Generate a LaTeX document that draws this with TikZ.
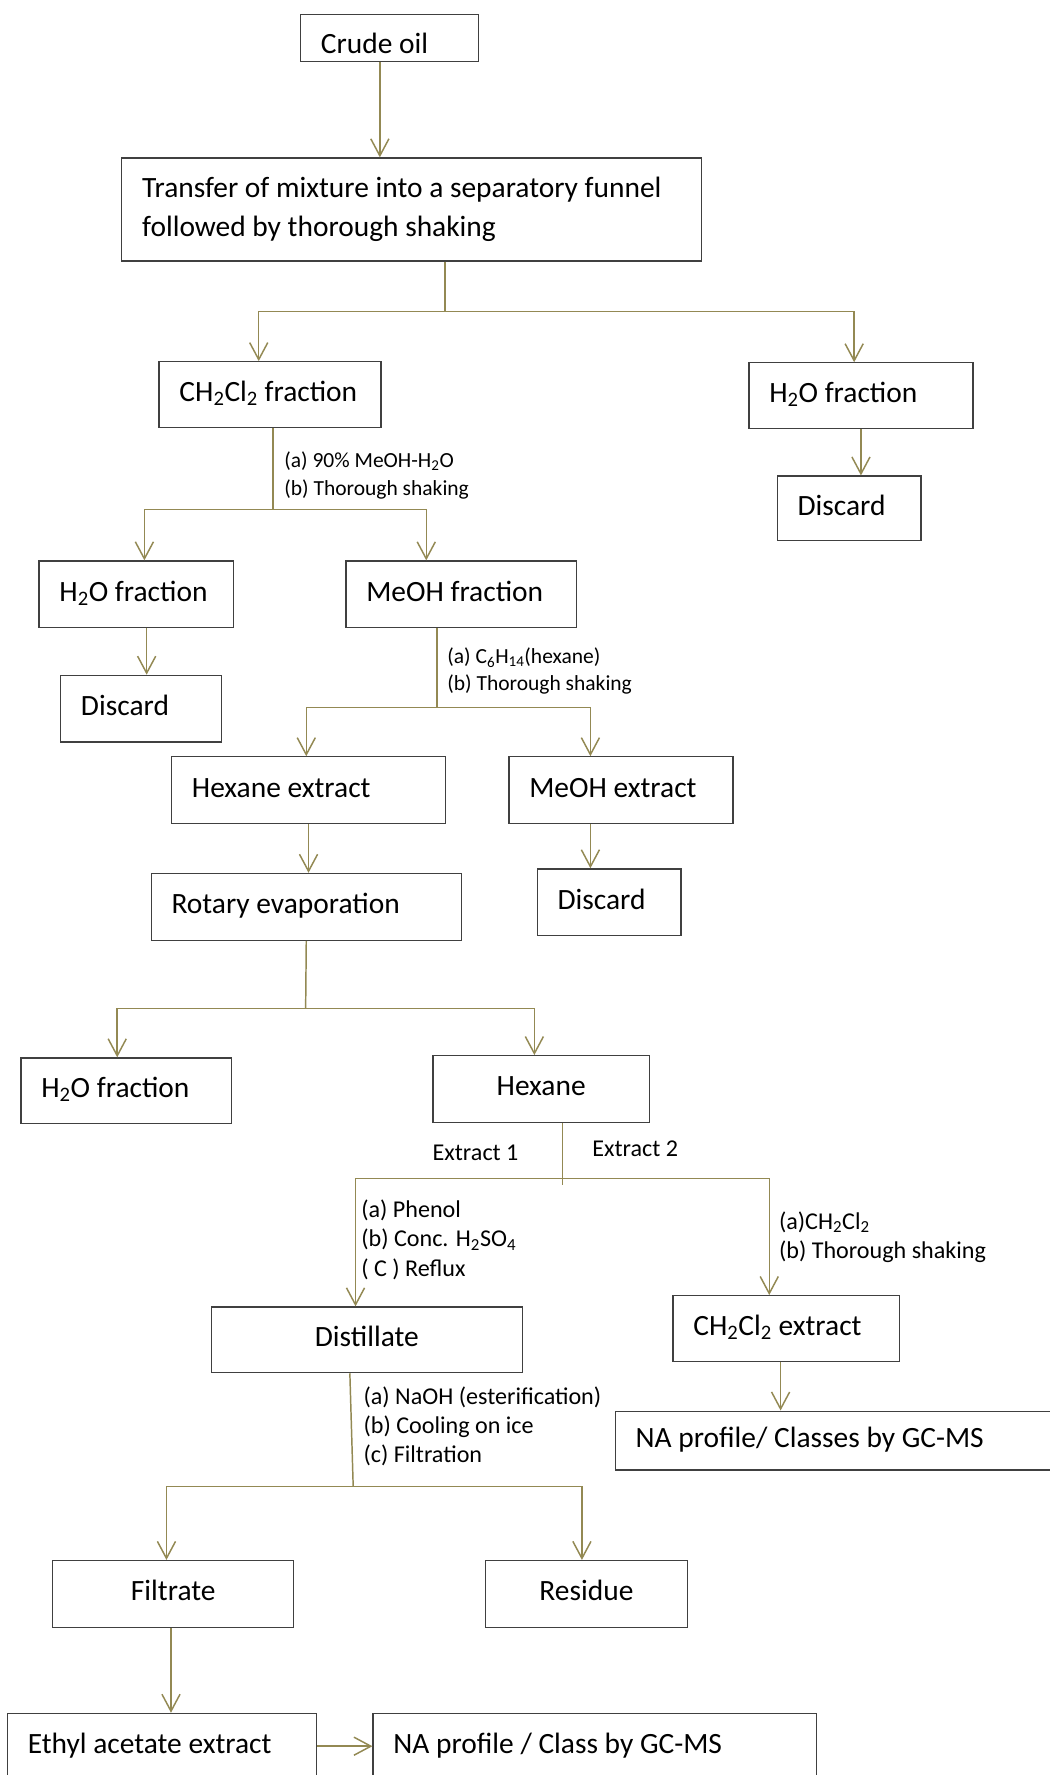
\documentclass[tikz,border=0pt]{standalone}
\usepackage{fontspec}
\setmainfont{Carlito}
\usepackage{tikz}
\usetikzlibrary{arrows.meta}

\definecolor{olivec}{HTML}{938953}
\definecolor{boxc}{HTML}{404040}
\newcommand{\boxfont}{\fontsize{26}{35}\selectfont}
\newcommand{\notefont}{\fontsize{19}{24}\selectfont}
\newcommand{\bignotefont}{\fontsize{21.3}{26}\selectfont}

\tikzset{
	box/.style={draw=boxc, line width=1.1pt, anchor=north west, inner xsep=18pt, inner ysep=0pt, align=left, font=\boxfont,
		text height=20pt, text depth=8pt, execute at begin node={\spaceskip=0pt\xspaceskip=0pt\relax}},
	cbox/.style={box, align=center},
	line/.style={draw=olivec, line width=1.3pt},
	conn/.style={line, -{Straight Barb[length=15pt,width=16pt]}},
	note/.style={anchor=west, inner sep=0pt, align=left, font=\notefont, execute at begin node={\spaceskip=0pt\xspaceskip=0pt\relax}},
	bignote/.style={note, font=\bignotefont}
}

\begin{document}
\begin{tikzpicture}[x=1pt,y=-1pt]
		\path[use as bounding box, fill=white] (0,0) rectangle (927,1568);
		
		% Boxes
		\node[box, text width=121, minimum height=42, text height=28pt, text depth=0pt] (crude) at (265,12) {Crude oil};
		\node[box, text width=476, minimum height=91, text height={}, text depth={}] (transfer) at (107,139) {Transfer of mixture into a separatory funnel\\followed by thorough shaking};
		\node[box, text width=160, minimum height=58] (ch) at (140,319) {CH\textsubscript{2}Cl\textsubscript{2} fraction};
		\node[box, text width=162, minimum height=58] (h2oR) at (661,320) {H\textsubscript{2}O fraction};
		\node[box, text width=91, minimum height=57] (discR) at (686,420) {Discard};
		\node[box, text width=136, minimum height=59] (h2oL) at (34,495) {H\textsubscript{2}O fraction};
		\node[box, text width=168, minimum height=59] (meoh) at (305,495) {MeOH fraction};
		\node[box, text width=106, minimum height=59] (discL) at (53,596) {Discard};
		\node[box, text width=206, minimum height=59] (hexext) at (151,668) {Hexane extract};
		\node[box, text width=162, minimum height=59] (meohext) at (449,668) {MeOH extract};
		\node[box, text width=238, minimum height=59] (rotary) at (133,771) {Rotary evaporation};
		\node[box, text width=91, minimum height=59] (discM) at (474,767) {Discard};
		\node[box, text width=150, minimum height=58] (h2oB) at (18,934) {H\textsubscript{2}O fraction};
		\node[cbox, text width=155, minimum height=59] (hexane) at (382,932) {Hexane};
		\node[cbox, text width=239, minimum height=58] (dist) at (186,1154) {Distillate};
		\node[box, text width=164, minimum height=58] (chext) at (594,1144) {CH\textsubscript{2}Cl\textsubscript{2} extract};
		\node[box, text width=364, minimum height=52] (na1) at (543,1246) {NA profile/ Classes by GC-MS};
		\node[cbox, text width=177, minimum height=59] (filt) at (46,1378) {Filtrate};
		\node[cbox, text width=143, minimum height=59] (resid) at (428,1378) {Residue};
		\node[box, text width=237, minimum height=58] (ethyl) at (6,1513) {Ethyl acetate extract};
		\node[box, text width=356, minimum height=58] (na2) at (329,1513) {NA profile / Class by GC-MS};
		
		% Branch points
		\coordinate (s1) at (393,275);
		\coordinate (s2) at (241,450);
		\coordinate (s3) at (386,625);
		\coordinate (s4) at (270,891);
		\coordinate (s5) at (497,1041);
		\coordinate (s6) at (312,1313);
		
		% Funnel
		\draw[conn] ([xshift=-8.5pt]crude.south) -- ([xshift=-8.5pt]crude.south |- transfer.north);
		\draw[line] (transfer.south -| s1) -- (s1);
		\draw[conn] (s1) -| ([xshift=-10pt]ch.north);
		\draw[conn] (s1) -| ([xshift=-6pt]h2oR.north);
		\draw[conn] (h2oR.south) -- (h2oR.south |- discR.north);
		
		% MeOH-H2O partition
		\draw[line] (ch.south -| s2) -- (s2);
		\draw[conn] (s2) -| ([xshift=7pt]h2oL.north);
		\draw[conn] (s2) -| ([xshift=-31pt]meoh.north);
		\draw[conn] ([xshift=9pt]h2oL.south) -- ([xshift=9pt]h2oL.south |- discL.north);
		\node[note] at (251,420) {(a) 90\% MeOH-H\textsubscript{2}O\\(b) Thorough shaking};
		
		% Hexane partition
		\draw[line] (meoh.south -| s3) -- (s3);
		\draw[conn] (s3) -| ([xshift=-2pt]hexext.north);
		\draw[conn] (s3) -| ([xshift=-27pt]meohext.north);
		\draw[conn] (hexext.south) -- (hexext.south |- rotary.north);
		\draw[conn] ([xshift=-27pt]meohext.south) -- ([xshift=-27pt]meohext.south |- discM.north);
		\node[note] at (395,593) {(a) C\textsubscript{6}H\textsubscript{14}(hexane)\\(b) Thorough shaking};
		
		% Evaporation
		\draw[line] (rotary.south) -- (s4);
		\draw[conn] (s4) -| ([xshift=-8pt]h2oB.north);
		\draw[conn] (s4) -| ([xshift=-6pt]hexane.north);
		
		% Two extracts
		\draw[line] (hexane.south -| s5) -- ([yshift=-6pt]s5);
		\draw[conn] (s5) -| ([xshift=-10pt]dist.north);
		\draw[conn] (s5) -| ([xshift=-15pt]chext.north);
		\draw[conn] ([xshift=-5pt]chext.south) -- ([xshift=-5pt]chext.south |- na1.north);
		\node[bignote] at (382,1018) {Extract 1};
		\node[bignote] at (523,1015) {Extract 2};
		\node[bignote] at (319,1095) {(a) Phenol\\(b) Conc. H\textsubscript{2}SO\textsubscript{4}\\( C ) Reflux};
		\node[bignote] at (688,1093) {(a)CH\textsubscript{2}Cl\textsubscript{2}\\(b) Thorough shaking};
		
		% Esterification
		\draw[line] ([xshift=-15pt]dist.south) -- (s6);
		\draw[conn] (s6) -| ([xshift=-6pt]filt.north);
		\draw[conn] (s6) -| ([xshift=-4pt]resid.north);
		\node[bignote] at (321,1260) {(a) NaOH (esterification)\\(b) Cooling on ice\\(c) Filtration};
		\draw[conn] ([xshift=-2pt]filt.south) -- ([xshift=-2pt]filt.south |- ethyl.north);
		\draw[conn] (ethyl.east) -- (na2.west);
	\end{tikzpicture}
\end{document}
